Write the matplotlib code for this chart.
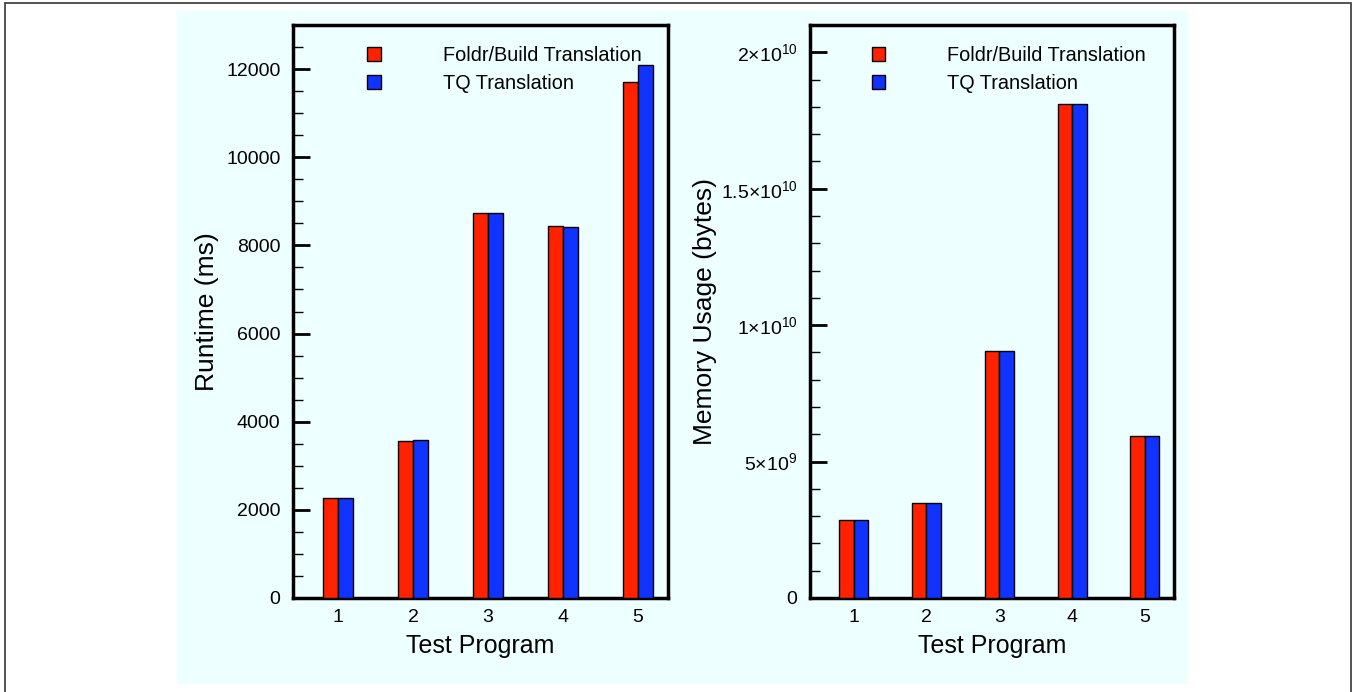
import matplotlib
matplotlib.use("Agg")
import matplotlib.pyplot as plt
import numpy as np
from matplotlib.patches import Rectangle, Patch
from matplotlib.ticker import MultipleLocator, FuncFormatter

plt.rcParams['font.family'] = ['Liberation Sans', 'DejaVu Sans']
plt.rcParams['mathtext.fontset'] = 'custom'
plt.rcParams['mathtext.rm'] = 'Liberation Sans'
plt.rcParams['mathtext.it'] = 'Liberation Sans'

programs = [1, 2, 3, 4, 5]
series_names = ["Foldr/Build Translation", "TQ Translation"]
runtime_foldr = [2280, 3570, 8740, 8440, 11700]
runtime_tq = [2280, 3585, 8730, 8410, 12100]
memory_foldr = [2.85e9, 3.49e9, 9.06e9, 1.81e10, 5.92e9]
memory_tq = [2.85e9, 3.49e9, 9.06e9, 1.81e10, 5.94e9]

RED = "#ff2200"
BLUE = "#1133ff"
CYAN = "#eeffff"

fig = plt.figure(figsize=(13.52, 6.92), dpi=100)
fig.patch.set_facecolor("white")

# background panel and outer frame (frame runs off the bottom edge)
fig.patches.append(Rectangle((177/1352, 1-684/692), (1188-177)/1352, (684-11)/692,
                             transform=fig.transFigure, facecolor=CYAN, edgecolor="none", zorder=-10))
fig.patches.append(Rectangle((4.5/1352, -0.05), (1350.5-4.5)/1352, 1.05 - 2.5/692,
                             transform=fig.transFigure, facecolor="none", edgecolor="#444444",
                             linewidth=1.3, zorder=-5))

ax1 = fig.add_axes([293/1352, 1-598/692, 375/1352, 573/692])
ax2 = fig.add_axes([810/1352, 1-598/692, 364/1352, 573/692])

x = np.array(programs, dtype=float)
w = 0.2

def sci_fmt(v, pos):
    if v == 0:
        return "0"
    exp = int(np.floor(np.log10(abs(v))))
    mant = v / 10**exp
    ms = ("%g" % mant)
    return ms + r"$\mathregular{{\times}10^{%d}}$" % exp

for ax, a, b, ylim, major, minor, ylabel, lx, legx in [
        (ax1, runtime_foldr, runtime_tq, 13000, 2000, 500, "Runtime (ms)", (207-293)/375,
         (367-293)/375 - 0.0467),
        (ax2, memory_foldr, memory_tq, 2.1e10, 5e9, 1e9, "Memory Usage (bytes)", (705-810)/364,
         (871-810)/364 - 0.0475)]:
    ax.set_facecolor(CYAN)
    ax.bar(x - w/2, a, width=w, color=RED, edgecolor="black", linewidth=1.0, zorder=3)
    ax.bar(x + w/2, b, width=w, color=BLUE, edgecolor="black", linewidth=1.0, zorder=3)
    ax.set_xlim(0.4, 5.4)
    ax.set_ylim(0, ylim)
    ax.set_xticks(programs)
    ax.set_xticklabels([str(p) for p in programs])
    ax.yaxis.set_major_locator(MultipleLocator(major))
    ax.yaxis.set_minor_locator(MultipleLocator(minor))
    ax.tick_params(axis='x', which='both', length=0, labelsize=14, pad=8)
    ax.tick_params(axis='y', which='major', direction='in', length=12, width=2, labelsize=14, pad=9)
    ax.tick_params(axis='y', which='minor', direction='in', length=7, width=1)
    for s in ax.spines.values():
        s.set_linewidth(2.5)
    ax.set_xlabel("Test Program", fontsize=18)
    ax.xaxis.set_label_coords(0.5, -0.084)
    ax.xaxis.label.set_va('center')
    ax.set_ylabel(ylabel, fontsize=19)
    ax.yaxis.set_label_coords(lx, 0.5)
    ax.yaxis.label.set_va('center')
    handles = [Patch(facecolor=RED, edgecolor="black", linewidth=1.0),
               Patch(facecolor=BLUE, edgecolor="black", linewidth=1.0)]
    ax.legend(handles, series_names, frameon=False, fontsize=14.3,
              handlelength=0.7, handleheight=0.7, handletextpad=3.1,
              labelspacing=0.48, loc='upper left',
              bbox_to_anchor=(legx, 0.995))

ax2.yaxis.set_major_formatter(FuncFormatter(sci_fmt))

fig.savefig("out.png", dpi=100, facecolor="white")
